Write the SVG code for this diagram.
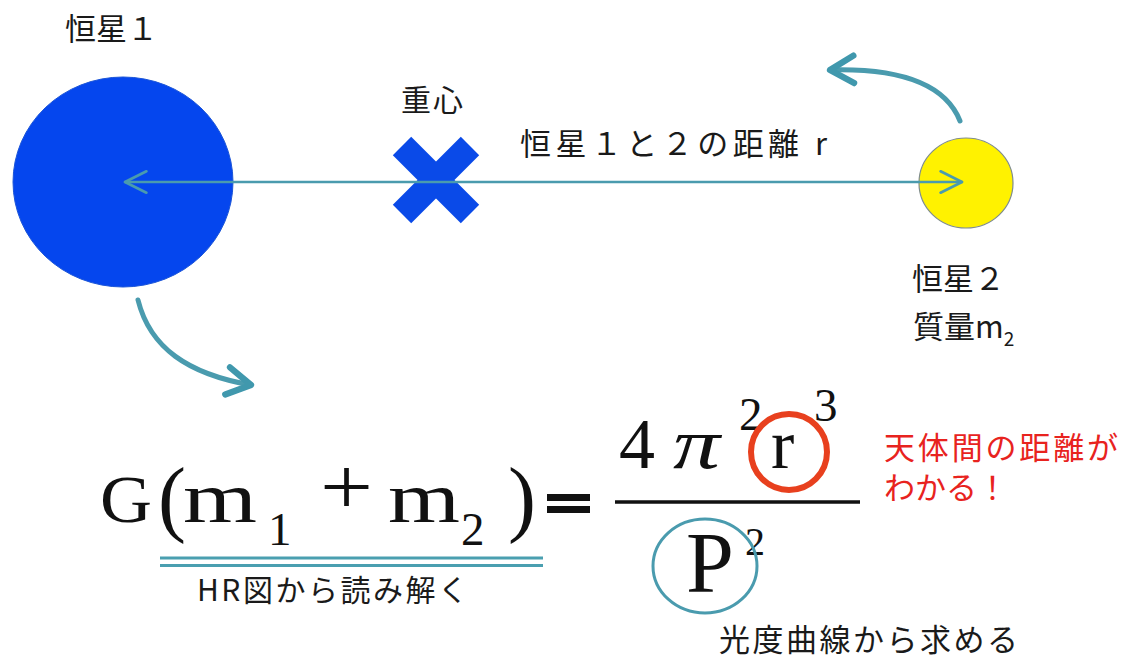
<svg xmlns="http://www.w3.org/2000/svg" width="1129" height="659" viewBox="0 0 1129 659">
  <style>
    .jp { font-family: "Noto Sans CJK JP", "Noto Sans", sans-serif; fill: #1a1a1a; }
    .red { fill: #e8231e; }
    .math { font-family: "Liberation Serif", "Times New Roman", serif; fill: #111; }
    .conn { fill: none; stroke: #4a9bae; stroke-linecap: round; stroke-linejoin: round; }
  </style>
  <defs>
    <marker id="thinHead" markerUnits="userSpaceOnUse" markerWidth="30" markerHeight="30" refX="0" refY="0" viewBox="-24 -14 28 28" orient="auto-start-reverse" overflow="visible">
      <path d="M-20,-10 L0,0 L-20,10" fill="none" stroke="#4a9bae" stroke-width="2.5" stroke-linecap="round" stroke-linejoin="round"/>
    </marker>
    <marker id="thickHead" markerUnits="userSpaceOnUse" markerWidth="40" markerHeight="40" refX="0" refY="0" viewBox="-26 -16 32 32" orient="auto" overflow="visible">
      <path d="M-19,-11 L0,0 L-19,11" fill="none" stroke="#4098ad" stroke-width="5" stroke-linecap="round" stroke-linejoin="round"/>
    </marker>
  </defs>
  <rect width="1129" height="659" fill="#ffffff"/>

  <g id="star1">
    <ellipse cx="123" cy="182" rx="110" ry="105" fill="#0546ee" stroke="#1b55d8" stroke-width="1"/>
    <text class="jp" x="65" y="40" font-size="31">恒星１</text>
  </g>

  <g id="barycenter">
    <g stroke="#0a4ae8" stroke-width="26" stroke-linecap="butt">
      <line x1="402" y1="146" x2="470" y2="214"/>
      <line x1="470" y1="146" x2="402" y2="214"/>
    </g>
    <text class="jp" x="401" y="111" font-size="30" letter-spacing="2">重心</text>
  </g>

  <g id="star2">
    <ellipse cx="966" cy="183" rx="47" ry="45" fill="#fff200" stroke="#7f8c8c" stroke-width="1.2"/>
    <text class="jp" x="912" y="290" font-size="31">恒星２</text>
    <text class="jp" x="913" y="338" font-size="31">質量m<tspan font-size="19" dy="8">2</tspan></text>
  </g>

  <g id="distance-label">
    <text class="jp" x="520" y="155" font-size="31" textLength="307" lengthAdjust="spacing">恒星１と２の距離 r</text>
  </g>

  <g id="connectors">
    <path class="conn" d="M125,182 L962,182" stroke-width="2.5" marker-start="url(#thinHead)" marker-end="url(#thinHead)"/>
    <path class="conn" d="M960,121 C946,86 905,68 830,70" stroke-width="5" stroke="#4098ad" marker-end="url(#thickHead)"/>
    <path class="conn" d="M138,300 C150,348 188,374 251,385" stroke-width="5" stroke="#4098ad" marker-end="url(#thickHead)"/>
  </g>

  <g id="formula-left">
    <text class="math" x="100" y="522" font-size="68" textLength="52" lengthAdjust="spacingAndGlyphs">G</text>
    <text class="math" x="158" y="526" font-size="84">(</text>
    <text class="math" x="183" y="522" font-size="72" textLength="74" lengthAdjust="spacingAndGlyphs">m</text>
    <text class="math" x="268" y="545" font-size="47">1</text>
    <text class="math" x="320" y="514" font-size="80" textLength="53" lengthAdjust="spacingAndGlyphs">+</text>
    <text class="math" x="388" y="522" font-size="72" textLength="72" lengthAdjust="spacingAndGlyphs">m</text>
    <text class="math" x="461" y="545" font-size="47">2</text>
    <text class="math" x="508" y="526" font-size="84">)</text>
    <rect x="547" y="494" width="43" height="7" fill="#111"/>
    <rect x="547" y="506" width="43" height="7" fill="#111"/>
  </g>

  <g id="hr-note">
    <line x1="160" y1="558" x2="543" y2="558" stroke="#4a9fb0" stroke-width="3"/>
    <line x1="160" y1="565.5" x2="543" y2="565.5" stroke="#4a9fb0" stroke-width="3"/>
    <text class="jp" x="197" y="601" font-size="30" letter-spacing="2.5">HR図から読み解く</text>
  </g>

  <g id="formula-right">
    <text class="math" x="619" y="468" font-size="72">4</text>
    <text class="math" x="673" y="468" font-size="72" font-style="italic" textLength="47" lengthAdjust="spacingAndGlyphs">π</text>
    <text class="math" x="739" y="430" font-size="47">2</text>
    <text class="math" x="771" y="468" font-size="70">r</text>
    <text class="math" x="814" y="421" font-size="47">3</text>
    <line x1="615" y1="502" x2="860" y2="502" stroke="#111" stroke-width="3.5"/>
    <text class="math" x="686" y="592" font-size="86">P</text>
    <text class="math" x="745" y="555" font-size="40">2</text>
    <circle cx="789" cy="452" r="38" fill="none" stroke="#e8401e" stroke-width="6"/>
    <ellipse cx="705" cy="566" rx="52" ry="47" fill="none" stroke="#4a9bae" stroke-width="3"/>
  </g>

  <g id="distance-note">
    <text class="jp red" x="884" y="459" font-size="31" textLength="234" lengthAdjust="spacing">天体間の距離が</text>
    <text class="jp red" x="884" y="499" font-size="31" textLength="124" lengthAdjust="spacing">わかる！</text>
  </g>

  <g id="period-note">
    <text class="jp" x="719" y="651" font-size="31" textLength="299" lengthAdjust="spacing">光度曲線から求める</text>
  </g>
</svg>
